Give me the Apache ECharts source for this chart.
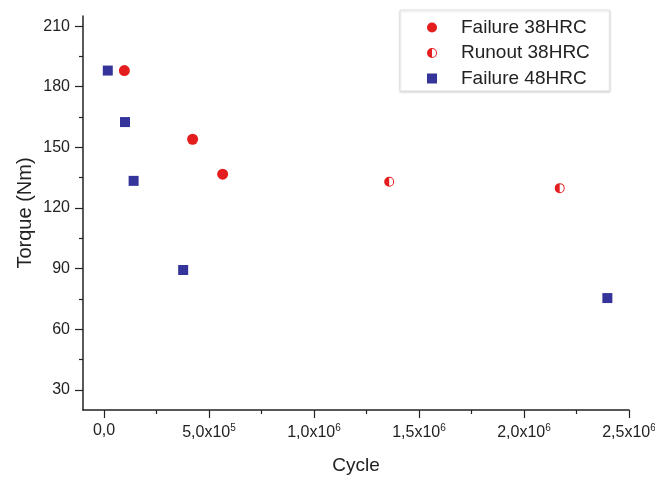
<!DOCTYPE html>
<html>
<head>
<meta charset="utf-8">
<script src="https://cdn.jsdelivr.net/npm/echarts@6/dist/echarts.min.js"></script>
<style>
  html, body { margin: 0; padding: 0; background: #fff; }
  #chart { width: 655px; height: 478px; }
</style>
</head>
<body>
<div id="chart"></div>
<script>
// data: [cycles, torque Nm]
const failure38 = [[9.7e4, 188], [4.22e5, 154], [5.65e5, 136.7]];
const runout38 = [[1.358e6, 133], [2.17e6, 129.8]];
const failure48 = [[1.8e4, 188], [1.0e5, 162.5], [1.41e5, 133.4], [3.77e5, 89.3], [2.397e6, 75.4]];

const seriesNames = ["Failure 38HRC", "Runout 38HRC", "Failure 48HRC"];

const xMajorTicks = [0, 5e5, 1e6, 1.5e6, 2e6, 2.5e6];
const xMinorTicks = [2.5e5, 7.5e5, 1.25e6, 1.75e6, 2.25e6];
const xTickLabels = ["0,0", "5,0x10{sup|5}", "1,0x10{sup|6}", "1,5x10{sup|6}", "2,0x10{sup|6}", "2,5x10{sup|6}"];

const yMajorTicks = [30, 60, 90, 120, 150, 180, 210];
const yMinorTicks = [45, 75, 105, 135, 165, 195];

const RED = "#e41e1e";
const BLUE = "#34349a";
const INK = "#222";
const FONT = "Liberation Sans, Arial, sans-serif";

// left half filled, right half outlined
const halfCircle =
  "path://M10 0 A10 10 0 0 0 10 20 Z M10 0 A10 10 0 0 1 10 20 L10 18 A8 8 0 0 0 10 2 Z";
const square = "path://M0 0 L10 0 L10 10 L0 10 Z";

const axisLine = { onZero: false, lineStyle: { color: INK, width: 1.5 } };
const tickLine = { color: INK, width: 1.2 };

const chart = echarts.init(document.getElementById("chart"), null, { renderer: "canvas" });

chart.setOption({
  backgroundColor: "#fff",
  animation: false,
  textStyle: { fontFamily: FONT, color: INK },
  grid: { left: 83, right: 26, top: 16, bottom: 68, containLabel: false, outerBoundsMode: "none" },
  legend: {
    data: seriesNames,
    orient: "vertical",
    left: 400,
    top: 10,
    padding: [8, 20, 3, 27],
    itemWidth: 48,
    itemHeight: 10,
    itemGap: 6.5,
    borderColor: "#e2e2e2",
    borderWidth: 1,
    shadowColor: "rgba(0,0,0,0.15)",
    shadowBlur: 2,
    shadowOffsetX: 0,
    shadowOffsetY: 1,
    backgroundColor: "#fff",
    textStyle: { fontSize: 19, color: INK, fontFamily: FONT }
  },
  xAxis: [
    {
      type: "value",
      min: -1e5,
      max: 2.5e6,
      name: "Cycle",
      nameLocation: "middle",
      nameGap: 46,
      nameTextStyle: { fontSize: 19, color: INK },
      axisLine: axisLine,
      axisTick: { customValues: xMajorTicks, length: 8, lineStyle: tickLine },
      axisLabel: {
        customValues: xMajorTicks,
        margin: 13,
        fontSize: 16,
        color: INK,
        formatter: (v) => xTickLabels[xMajorTicks.indexOf(v)],
        rich: { sup: { fontSize: 10, color: INK, padding: [0, 0, 10, 0] } }
      },
      splitLine: { show: false }
    },
    {
      type: "value",
      min: -1e5,
      max: 2.5e6,
      position: "bottom",
      axisLine: { show: false, onZero: false },
      axisTick: { customValues: xMinorTicks, length: 4, lineStyle: tickLine },
      axisLabel: { show: false },
      splitLine: { show: false }
    }
  ],
  yAxis: [
    {
      type: "value",
      min: 20,
      max: 215,
      name: "Torque (Nm)",
      nameLocation: "middle",
      nameGap: 48,
      nameMoveOverlap: false,
      nameTextStyle: { fontSize: 20, color: INK },
      axisLine: axisLine,
      axisTick: { customValues: yMajorTicks, length: 8, lineStyle: tickLine },
      axisLabel: { customValues: yMajorTicks, margin: 13, fontSize: 16, color: INK },
      splitLine: { show: false }
    },
    {
      type: "value",
      min: 20,
      max: 215,
      position: "left",
      axisLine: { show: false, onZero: false },
      axisTick: { customValues: yMinorTicks, length: 4, lineStyle: tickLine },
      axisLabel: { show: false },
      splitLine: { show: false }
    }
  ],
  series: [
    {
      name: seriesNames[0],
      type: "scatter",
      data: failure38,
      symbol: "circle",
      symbolSize: 11,
      itemStyle: { color: RED, opacity: 1 }
    },
    {
      name: seriesNames[1],
      type: "scatter",
      data: runout38,
      symbol: halfCircle,
      symbolSize: 10,
      itemStyle: { color: RED, opacity: 1 }
    },
    {
      name: seriesNames[2],
      type: "scatter",
      data: failure48,
      symbol: square,
      symbolSize: 10,
      itemStyle: { color: BLUE, opacity: 1 }
    }
  ]
});
</script>
</body>
</html>
